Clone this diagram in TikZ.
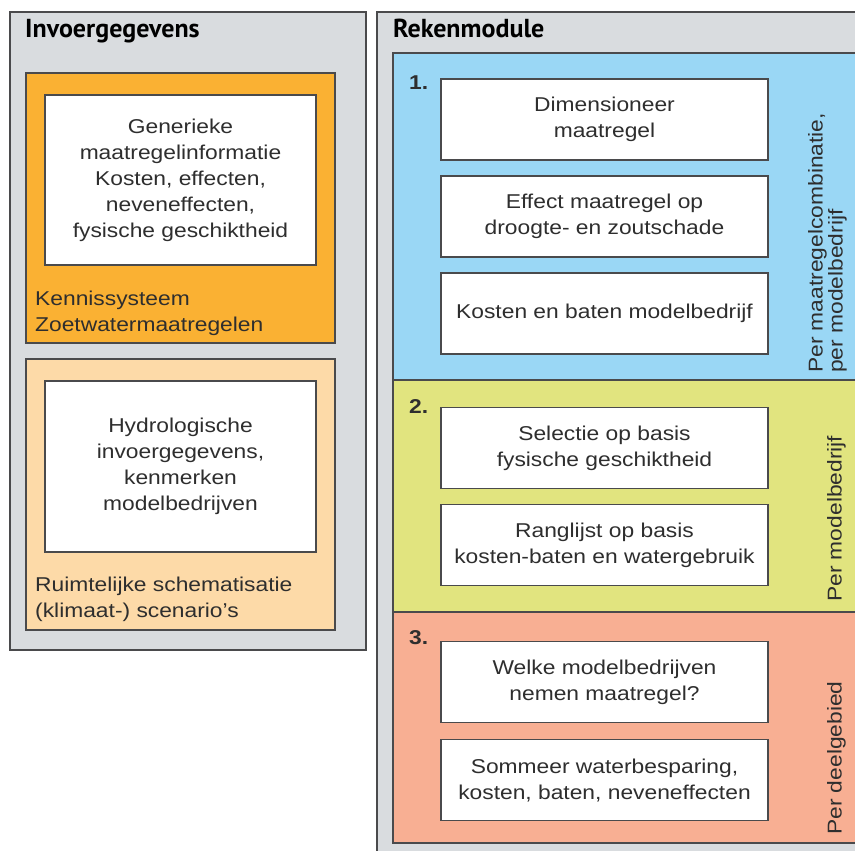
\documentclass[tikz,border=0pt]{standalone}
\usepackage{fontspec}
\setmainfont{Liberation Sans}[FakeStretch=1.14]
\newfontfamily\kopfont{PT Sans}
\usetikzlibrary{positioning}
\definecolor{paneel}{HTML}{D9DCDF}
\definecolor{rand}{HTML}{4A4A4C}
\definecolor{tekst}{HTML}{2E2E2E}
\definecolor{oranje}{HTML}{FAB133}
\definecolor{lichtoranje}{HTML}{FDDAA8}
\definecolor{blauw}{HTML}{9AD7F5}
\definecolor{geel}{HTML}{E1E47F}
\definecolor{zalm}{HTML}{F8AF93}

\tikzset{
  kader/.style={draw=rand, line width=1.6pt},
  taak/.style={kader, fill=white, minimum width=327pt, minimum height=81pt,
    align=center, text=tekst, inner sep=0pt, font=\fontsize{20}{26}\selectfont},
  invoer/.style={kader, fill=white, minimum width=271pt, minimum height=171pt,
    align=center, text=tekst, inner sep=0pt, font=\fontsize{20}{26}\selectfont},
  kop/.style={anchor=base west, inner sep=0pt, text=black, font=\kopfont\bfseries\fontsize{26}{30}\selectfont},
  nummer/.style={anchor=base west, inner sep=0pt, text=tekst, font=\bfseries\fontsize{20}{24}\selectfont},
  zijtekst/.style={anchor=north west, rotate=90, inner sep=0pt, align=left, text=tekst,
    font=\fontsize{20}{20}\selectfont},
  bron/.style={anchor=north west, inner sep=0pt, align=left, text=tekst, font=\fontsize{20}{26}\selectfont},
}

\begin{document}
\begin{tikzpicture}[x=1pt, y=-1pt]
  \useasboundingbox (0,0) rectangle (855,851);
  \clip (0,0) rectangle (855,851);
  \fill[white] (0,0) rectangle (855,851);

  % invoergegevens
  \draw[kader, fill=paneel] (10,12) rectangle (366,650);
  \node[kop] (invoerkop) at (25,38) {Invoergegevens};
  \draw[kader, fill=oranje] (26,73) rectangle (335,343);
  \node[invoer, minimum height=170pt] (generiek) at (180.5,180)
    {Generieke\\maatregelinformatie\\Kosten, effecten,\\neveneffecten,\\fysische geschiktheid};
  \node[bron] (kennis) at (35,291) {Kennissysteem\\Zoetwatermaatregelen};
  \draw[kader, fill=lichtoranje] (26,359) rectangle (335,630);
  \node[invoer] (hydro) at (180.5,466.5)
    {Hydrologische\\invoergegevens,\\kenmerken\\modelbedrijven};
  \node[bron] (ruimte) at (35,577) {Ruimtelijke schematisatie\\(klimaat-) scenario's};

  % rekenmodule
  \draw[kader, fill=paneel] (377,12) rectangle (880,880);
  \node[kop] (rekenkop) at (393,38) {Rekenmodule};
  \draw[kader, fill=blauw] (393,53) rectangle (880,380);
  \draw[kader, fill=geel] (393,380) rectangle (880,612);
  \draw[kader, fill=zalm] (393,612) rectangle (880,843);

  % 1. per maatregelcombinatie
  \node[nummer] (een) at (409,90) {1.};
  \node[taak] (dimensie) at (604.5,119.5) {Dimensioneer\\maatregel};
  \node[taak, below=14.5pt of dimensie] (effect) {Effect maatregel op\\droogte- en zoutschade};
  \node[taak, below=14.5pt of effect] (kosten) {Kosten en baten modelbedrijf};
  \node[zijtekst] (percombi) at (808,373) {Per maatregelcombinatie,\\per modelbedrijf};

  % 2. per modelbedrijf
  \node[nummer] (twee) at (409,413) {2.};
  \node[taak] (selectie) at (604.5,448) {Selectie op basis\\fysische geschiktheid};
  \node[taak, below=14.5pt of selectie] (ranglijst) {Ranglijst op basis\\kosten-baten en watergebruik};
  \node[zijtekst] (perbedrijf) at (827,602) {Per modelbedrijf};

  % 3. per deelgebied
  \node[nummer] (drie) at (409,644) {3.};
  \node[taak] (welke) at (604.5,682) {Welke modelbedrijven\\nemen maatregel?};
  \node[taak, below=15.5pt of welke] (sommeer) {Sommeer waterbesparing,\\kosten, baten, neveneffecten};
  \node[zijtekst] (perdeel) at (827,835) {Per deelgebied};
\end{tikzpicture}
\end{document}
